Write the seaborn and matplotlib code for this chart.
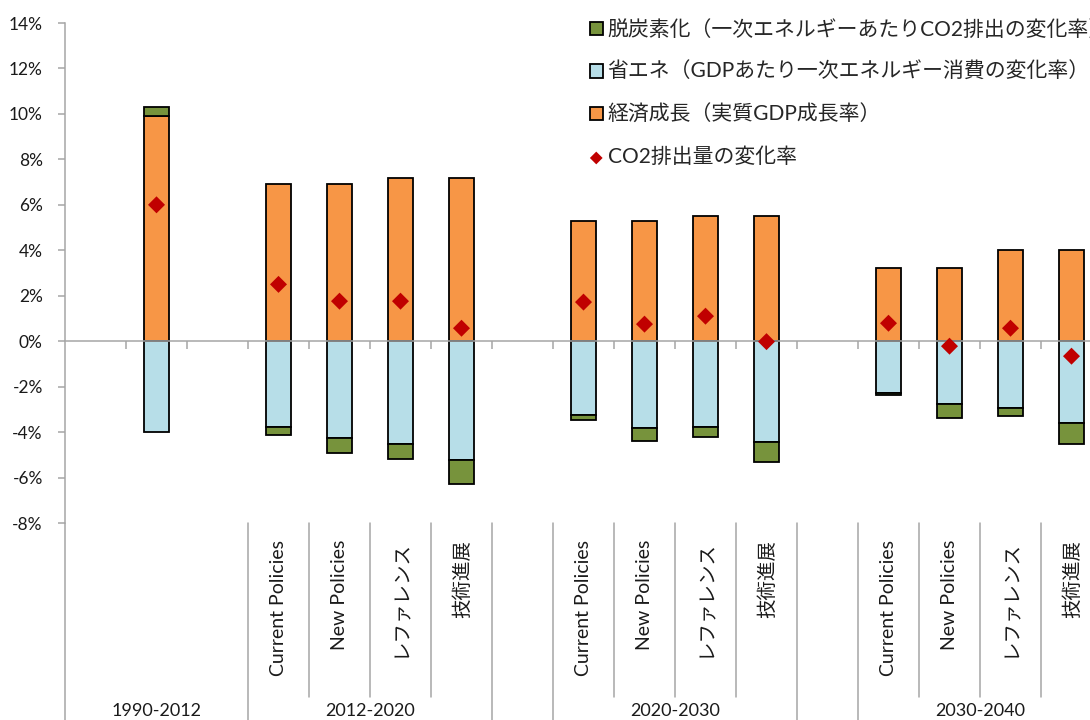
import numpy as np
import pandas as pd
import seaborn as sns
import matplotlib.pyplot as plt
import matplotlib.transforms as mtransforms
from matplotlib.ticker import FuncFormatter

periods = ['1990-2012', '2012-2020', '2020-2030', '2030-2040']
scenarios = ['Current Policies', 'New Policies', 'レファレンス', '技術進展']

# 1990-2012 first, then the four scenarios for each later period (in %)
growth = [9.9, 6.9, 6.9, 7.2, 7.2, 5.3, 5.3, 5.5, 5.5, 3.2, 3.2, 4.0, 4.0]
energy = [-4.0, -3.77, -4.26, -4.52, -5.23, -3.27, -3.8, -3.79, -4.45, -2.28, -2.75, -2.94, -3.6]
decarb = [0.4, -0.37, -0.66, -0.66, -1.07, -0.21, -0.6, -0.41, -0.85, -0.1, -0.61, -0.35, -0.94]
co2 = [6.0, 2.5, 1.76, 1.76, 0.57, 1.72, 0.75, 1.1, -0.02, 0.79, -0.22, 0.57, -0.66]

lbl_decarb = '脱炭素化（一次エネルギーあたりCO2排出の変化率）'
lbl_energy = '省エネ（GDPあたり一次エネルギー消費の変化率）'
lbl_growth = '経済成長（実質GDP成長率）'
lbl_co2 = 'CO2排出量の変化率'

sns.set_style('white')
plt.rcParams['font.family'] = ['Lato', 'Noto Sans CJK JP', 'DejaVu Sans']
gray = '#A6A6A6'

# slots on the category axis: 17 slots with blanks between periods
slot = [1] + [3 + 5 * p + s for p in range(3) for s in range(4)]
df = pd.DataFrame({'x': slot, 'growth': growth, 'energy': energy,
                   'decarb': decarb, 'co2': co2})
df['base'] = np.where(df.decarb > 0, df.growth, df.energy)

fig = plt.figure(figsize=(10.9, 7.2), dpi=100)
ax = fig.add_axes([65/1090, 197/720, 1037/1090, 500/720])

kw = dict(native_scale=True, width=0.41, saturation=1, edgecolor='black',
          linewidth=1.3, errorbar=None, legend=False, ax=ax)
sns.barplot(data=df, x='x', y='growth', color='#F79646', label=lbl_growth, **kw)
sns.barplot(data=df, x='x', y='energy', color='#B7DEE8', label=lbl_energy, **kw)
sns.barplot(data=df, x='x', y='decarb', color='#77933C', label=lbl_decarb,
            bottom=df.base.values, **kw)
sns.scatterplot(data=df, x='x', y='co2', marker='D', color='#C00000', s=75,
                edgecolor='none', label=lbl_co2, legend=False, ax=ax, zorder=5)

ax.set_xlim(-0.5, 16.5)
ax.set_ylim(-8, 14)
ax.set_yticks(range(-8, 15, 2))
ax.yaxis.set_major_formatter(FuncFormatter(lambda v, p: f'{v:.0f}%'))
ax.set_xticks(np.arange(0.5, 16.5, 1))
ax.set_xticklabels([])
ax.set_xlabel('')
ax.set_ylabel('')
for s in ['top', 'right']:
    ax.spines[s].set_visible(False)
ax.spines['left'].set_color(gray)
ax.spines['left'].set_linewidth(1.1)
ax.spines['bottom'].set_position(('data', 0))
ax.spines['bottom'].set_color(gray)
ax.spines['bottom'].set_linewidth(1.1)
ax.tick_params(axis='x', bottom=True, direction='out', length=6, width=1.1, color=gray)
ax.tick_params(axis='y', left=True, direction='out', length=5, width=1.1, color=gray,
               labelsize=12.5, pad=11, labelcolor='#1a1a1a')

# multi-level category labels below the plot
trans = mtransforms.blended_transform_factory(ax.transData, fig.transFigure)
y_top = 197/720
for xb in [-0.5, 2.5, 6.5, 7.5, 11.5, 12.5, 16.5]:
    ax.plot([xb, xb], [y_top, 0], transform=trans, clip_on=False, color=gray, lw=1.1)
for start in [2.5, 7.5, 12.5]:
    for k in range(1, 4):
        ax.plot([start + k, start + k], [y_top, 1 - 697/720], transform=trans,
                clip_on=False, color=gray, lw=1.1)
for xs, name in zip(slot[1:], scenarios * 3):
    ax.text(xs, 1 - 540/720, name, transform=trans, rotation=90, ha='center',
            va='top', fontsize=14, color='#1a1a1a')
for xc, name in zip([1, 4.5, 9.5, 14.5], periods):
    ax.text(xc, 1 - 711/720, name, transform=trans, ha='center', va='center',
            fontsize=13, color='#1a1a1a')

handles, labels = ax.get_legend_handles_labels()
order = [labels.index(l) for l in [lbl_decarb, lbl_energy, lbl_growth, lbl_co2]]
fig.legend([handles[i] for i in order], [labels[i] for i in order],
           loc='upper left', bbox_to_anchor=(590/1090, 1 - 20/720), frameon=False,
           fontsize=15, handlelength=0.6, handleheight=0.6, handletextpad=0.25,
           labelspacing=1.07, borderaxespad=0, borderpad=0, markerscale=0.75)

fig.savefig('out.png', dpi=100)
